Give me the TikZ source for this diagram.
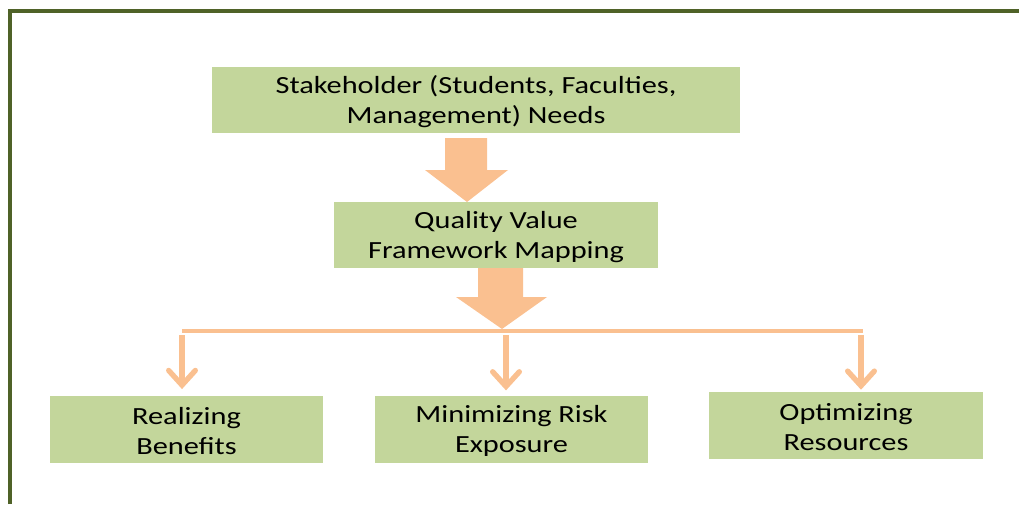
\documentclass[tikz,border=0pt]{standalone}
\usepackage{fontspec}
\setmainfont{Carlito}[FakeStretch=1.23]
\usetikzlibrary{arrows.meta}
\definecolor{boxgreen}{HTML}{C3D69B}
\definecolor{arrorange}{HTML}{FAC090}
\definecolor{frameolive}{HTML}{4F6228}
\begin{document}
\begin{tikzpicture}[x=0.75pt,y=-0.75pt,
  gbox/.style={rectangle,fill=boxgreen,draw=none,align=center,inner sep=0pt,
    font=\fontsize{18.5}{22.5}\selectfont},
  gtext/.style={align=center,inner sep=0pt,font=\fontsize{18.5}{22.5}\selectfont},
  bigarrow/.style={fill=arrorange},
  hline/.style={draw=arrorange,line width=2.4pt},
  smallarrow/.style={draw=arrorange,line width=4pt,
    -{Straight Barb[length=11pt,width=20pt,line cap=round]}}]
\useasboundingbox (0,0) rectangle (1019,504);
% frame
\draw[frameolive,line width=2.4pt] (10,504) -- (10,11) -- (1019,11);
% boxes
\node[gbox,minimum width=396pt,minimum height=49.5pt] (top) at (476,100) {};
\node[gtext] (toptext) at ([yshift=-1.5pt]top.center)
  {Stakeholder (Students, Faculties,\\Management) Needs};
\node[gbox,minimum width=243pt,minimum height=49.5pt] (mid) at (496,235) {};
\node[gtext] (midtext) at ([yshift=-1.5pt]mid.center)
  {Quality Value\\Framework Mapping};
\node[gbox,minimum width=204.75pt,minimum height=50.25pt] (bl) at (186.5,429.5) {};
\node[gtext] (bltext) at ([yshift=-1pt]bl.center) {Realizing\\Benefits};
\node[gbox,minimum width=204.75pt,minimum height=50.25pt] (bm) at (511.5,429.5) {};
\node[gtext] (bmtext) at ([yshift=-1pt]bm.center) {Minimizing Risk\\Exposure};
\node[gbox,minimum width=205.5pt,minimum height=50.25pt] (br) at (846,425.5) {};
\node[gtext] (brtext) at ([yshift=-1pt]br.center) {Optimizing\\Resources};
% big block arrows
\fill[bigarrow] (445,138) -- (487,138) -- (487,170) -- (508,170) -- (467,202)
  -- (425,170) -- (445,170) -- cycle;
\fill[bigarrow] (478,268) -- (523,268) -- (523,297) -- (547,297) -- (502,329)
  -- (456,297) -- (478,297) -- cycle;
% distribution line
\coordinate (j1) at (182,331);
\coordinate (j2) at (506,331);
\coordinate (j3) at (861,331);
\draw[hline] (j1) -- (863,331);
\draw[smallarrow,shorten <=3pt,shorten >=5pt] (j1) -- (j1 |- bl.north);
\draw[smallarrow,shorten <=3pt,shorten >=4pt] (j2) -- (j2 |- bm.north);
\draw[smallarrow,shorten <=3pt,shorten >=1.5pt] (j3) -- (j3 |- br.north);
\end{tikzpicture}
\end{document}
